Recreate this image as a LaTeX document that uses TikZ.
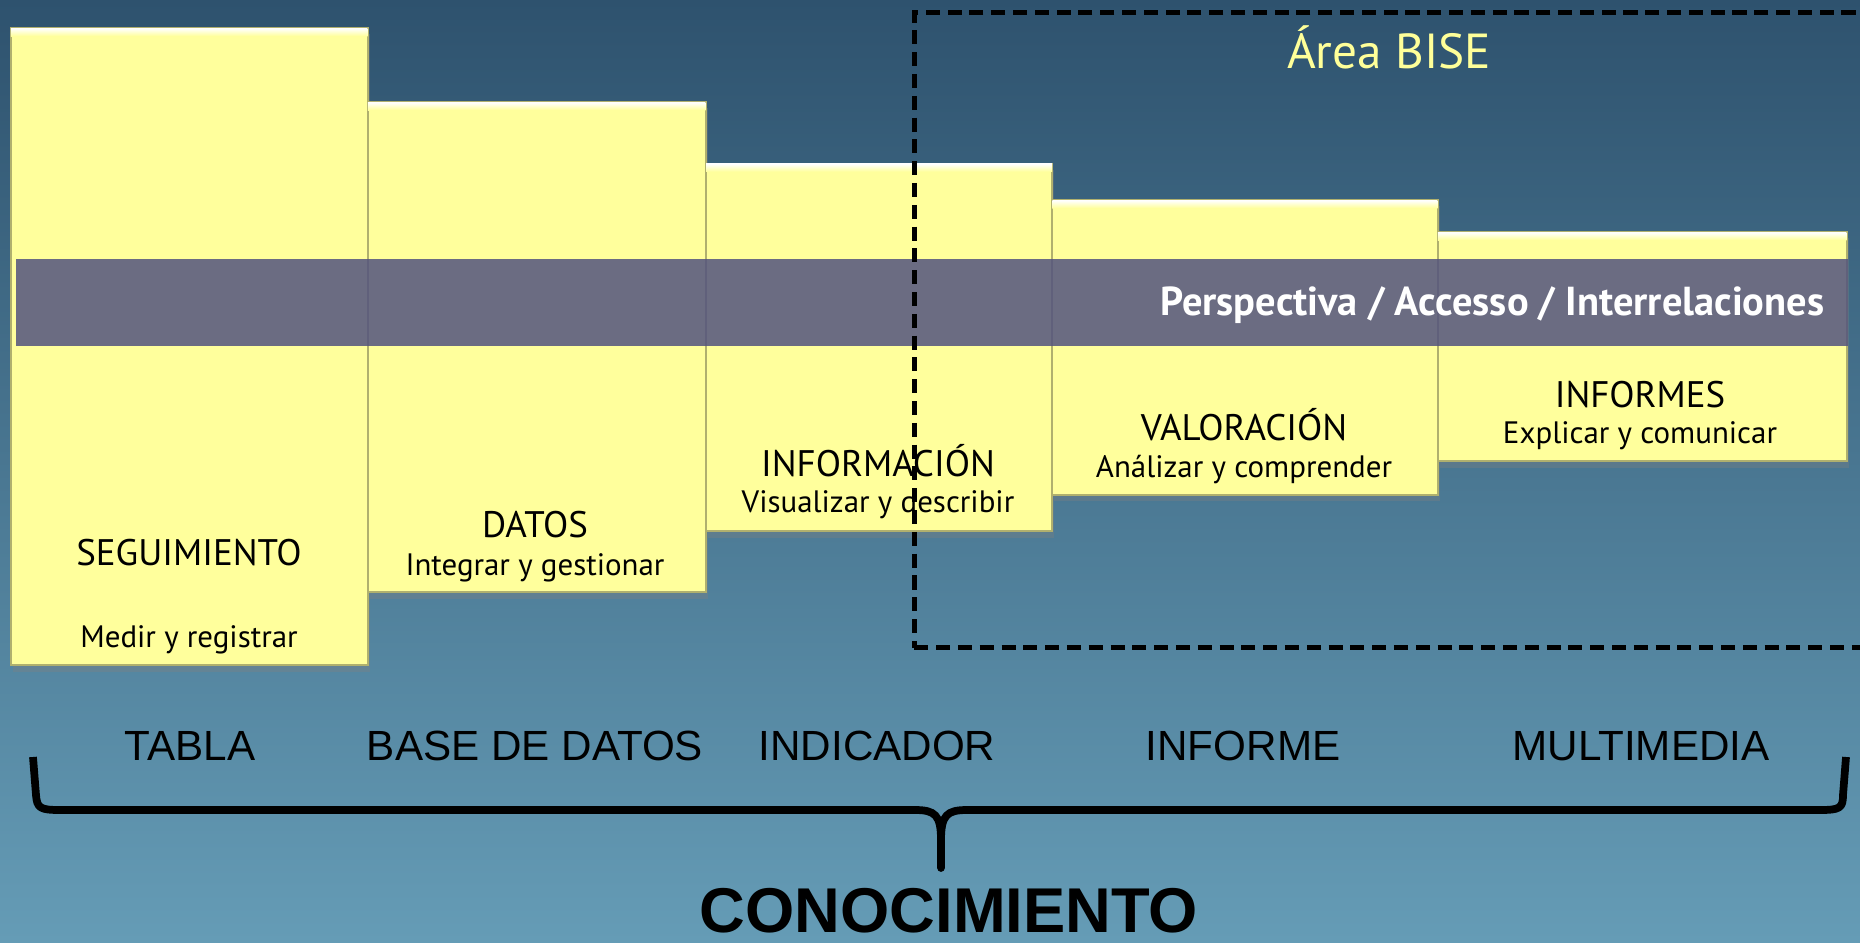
\documentclass[tikz,border=0pt]{standalone}
\usepackage{fontspec}
\setmainfont{PT Sans}
\newfontfamily\arialfont{Liberation Sans}
\usetikzlibrary{shadows}
\definecolor{bgtop}{RGB}{46,82,110}
\definecolor{bgbottom}{RGB}{101,156,182}
\definecolor{boxyellow}{RGB}{255,255,156}
\definecolor{boxedge}{RGB}{176,176,110}
\definecolor{bandgray}{RGB}{82,83,126}
\definecolor{bisetext}{RGB}{255,255,153}
\begin{document}
\begin{tikzpicture}[x=0.01cm, y=-0.01cm,
    stepbox/.style={draw=boxedge, line width=0.6pt, fill=boxyellow, anchor=north west, inner sep=0pt,
        drop shadow={shadow xshift=0.6pt, shadow yshift=-1.8pt, opacity=0.35}},
    title/.style={anchor=base, font=\fontsize{10.5}{12}\selectfont},
    sub/.style={anchor=base, font=\fontsize{8.8}{10}\selectfont},
    medium/.style={anchor=base, font=\arialfont\fontsize{12}{14}\selectfont}]
    % Background
    \shade[top color=bgtop, bottom color=bgbottom] (0,0) rectangle (1860,942);
    \useasboundingbox (0,0) rectangle (1860,942);

    % Steps
    \node[stepbox, minimum width=3.57cm, minimum height=6.37cm] (seg) at (9.5,27) {};
    \node[stepbox, minimum width=3.38cm, minimum height=4.90cm] (dat) at (366.5,101) {};
    \node[stepbox, minimum width=3.465cm, minimum height=3.675cm] (inf) at (704.6,162.5) {};
    \node[stepbox, minimum width=3.855cm, minimum height=2.945cm] (val) at (1051,199) {};
    \node[stepbox, minimum width=4.09cm, minimum height=2.29cm] (rep) at (1436.5,231) {};
    \foreach \b in {seg,dat,inf,val,rep}
        \shade[top color=white, bottom color=boxyellow]
            ([xshift=0.4pt,yshift=-0.4pt]\b.north west) rectangle ([xshift=-0.4pt,yshift=-0.09cm]\b.north east);

    % Band
    \node[fill=bandgray, fill opacity=0.85, anchor=north west, inner sep=0pt,
        minimum width=18.31cm, minimum height=0.864cm] (band) at (15,258.6) {};
    \node[anchor=base east, inner sep=0pt, text=white, font=\bfseries\fontsize{11.5}{13}\selectfont] (persp) at (1825,315)
        {Perspectiva / Accesso / Interrelaciones};

    % Step labels
    \node[title] (segT) at (189,565) {SEGUIMIENTO};
    \node[sub] (segS) at (189,647) {Medir y registrar};
    \node[title] (datT) at (535,537) {DATOS};
    \node[sub] (datS) at (535,575) {Integrar y gestionar};
    \node[title] (infT) at (878,476) {INFORMACIÓN};
    \node[sub] (infS) at (878,512) {Visualizar y describir};
    \node[title] (valT) at (1244,440) {VALORACIÓN};
    \node[sub] (valS) at (1244,477) {Análizar y comprender};
    \node[title] (repT) at (1640,407) {INFORMES};
    \node[sub] (repS) at (1640,443) {Explicar y comunicar};

    % BISE area
    \node[draw=black, line width=1.3pt, dash pattern=on 4pt off 2.2pt, anchor=north west, inner sep=0pt,
        minimum width=9.7cm, minimum height=6.35cm] (bise) at (912,10) {};
    \node[anchor=base, text=bisetext, font=\fontsize{14}{16}\selectfont] (biseT) at (1389,68) {Área BISE};

    % Media
    \node[medium] (tabla) at (190,760) {TABLA};
    \node[medium] (base) at (535,760) {BASE DE DATOS};
    \node[medium] (ind) at (877,760) {INDICADOR};
    \node[medium] (inform) at (1243,760) {INFORME};
    \node[medium] (multi) at (1641,760) {MULTIMEDIA};

    % Brace
    \coordinate (braceL) at (33,757);
    \coordinate (braceR) at (1846,757);
    \coordinate (braceTip) at (941,868);
    \draw[line width=2.2pt, line join=round] (braceL) -- (36,795) .. controls (37,808) and (40,810) .. (60,810)
        -- (915,810) .. controls (935,810) and (941,815) .. (941,840) -- (braceTip)
        -- (941,840) .. controls (941,815) and (947,810) .. (967,810)
        -- (1820,810) .. controls (1840,810) and (1843,808) .. (1843,795) -- (braceR);
    \node[anchor=base, inner sep=0pt, font=\arialfont\bfseries\fontsize{18}{21}\selectfont] (know) at (949,932) {CONOCIMIENTO};
\end{tikzpicture}
\end{document}
